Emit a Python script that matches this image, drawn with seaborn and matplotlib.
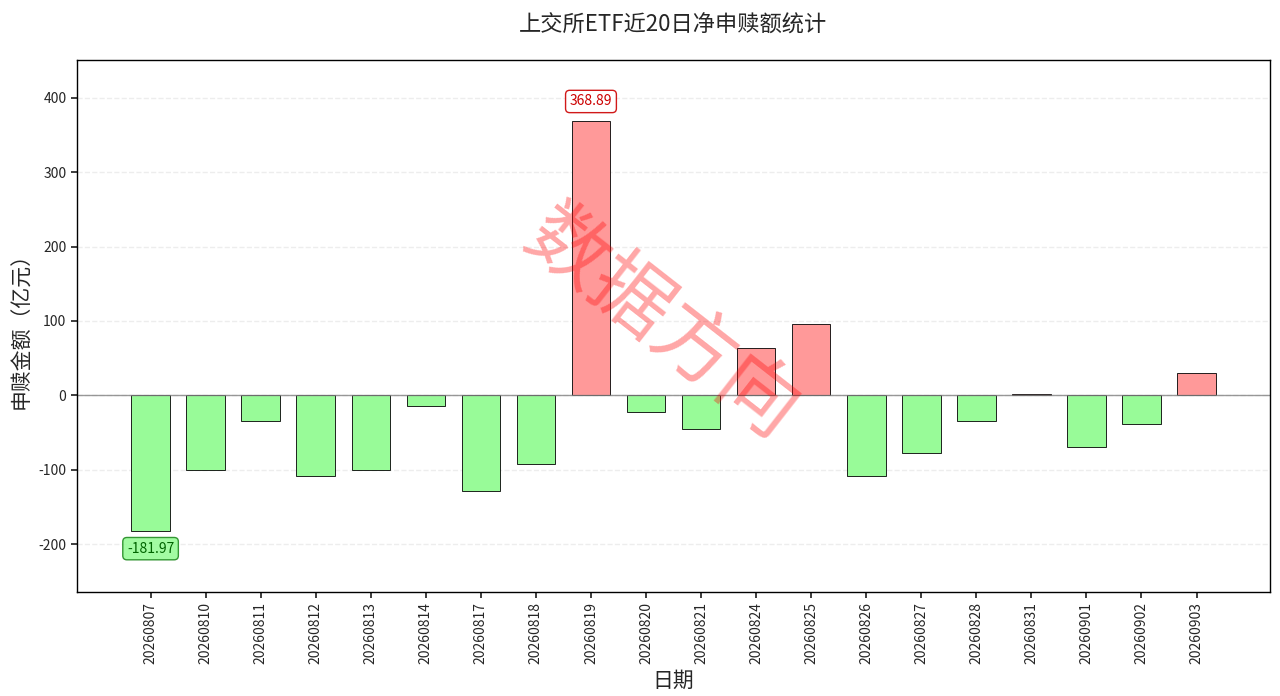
import matplotlib
matplotlib.use("Agg")
import matplotlib.pyplot as plt
import seaborn as sns
import pandas as pd

dates = ['20260807', '20260810', '20260811', '20260812', '20260813', '20260814',
         '20260817', '20260818', '20260819', '20260820', '20260821', '20260824',
         '20260825', '20260826', '20260827', '20260828', '20260831', '20260901',
         '20260902', '20260903']
net_flow = [-181.97, -101, -35, -109, -101, -15, -129, -92, 368.89, -22, -46, 63,
            96, -109, -78, -35, 2, -70, -39, 30]

sns.set_theme(style="white")
plt.rcParams['font.family'] = ['Noto Sans CJK SC', 'DejaVu Sans']
plt.rcParams['axes.unicode_minus'] = False

df = pd.DataFrame({'date': dates, 'value': net_flow})
colors = ['#ff9999' if v > 0 else '#98fb98' for v in net_flow]

fig, ax = plt.subplots(figsize=(12.8, 6.96), dpi=100)
sns.barplot(data=df, x='date', y='value', hue='date', palette=colors, legend=False,
            width=0.7, saturation=1, edgecolor='black', linewidth=0.6, ax=ax)

ax.axhline(0, color='gray', linewidth=1, alpha=0.8)
ax.yaxis.grid(True, linestyle='--', alpha=0.35)
ax.set_axisbelow(True)
ax.set_ylim(-264, 451)
ax.set_xlim(-1.34, 20.33)
for s in ax.spines.values():
    s.set_color('black')
    s.set_linewidth(1)
ax.tick_params(axis='both', length=4, left=True, bottom=True, labelsize=10)
plt.setp(ax.get_xticklabels(), rotation=90)

ax.set_title('上交所ETF近20日净申赎额统计', fontsize=16, pad=20)
ax.set_xlabel('日期', fontsize=15)
ax.set_ylabel('申赎金额（亿元）', fontsize=15)

imax = net_flow.index(max(net_flow))
imin = net_flow.index(min(net_flow))
ax.annotate(f'{net_flow[imax]:.2f}', xy=(imax, net_flow[imax]), xytext=(0, 14),
            textcoords='offset points', ha='center', va='center', color='#cc0000', fontsize=10,
            bbox=dict(boxstyle='round,pad=0.3', fc='white', ec='#cc0000', alpha=0.9))
ax.annotate(f'{net_flow[imin]:.2f}', xy=(imin, net_flow[imin]), xytext=(0, -13),
            textcoords='offset points', ha='center', va='center', color='#006400', fontsize=10,
            bbox=dict(boxstyle='round,pad=0.3', fc='#98fb98', ec='#228b22', alpha=0.9))

ax.text(0.49, 0.50, '数据方向', transform=ax.transAxes, fontsize=58, color='red',
        alpha=0.35, rotation=-38, ha='center', va='center')

fig.subplots_adjust(left=0.06, right=0.992, top=0.914, bottom=0.15)
fig.savefig('out.png', dpi=100)
